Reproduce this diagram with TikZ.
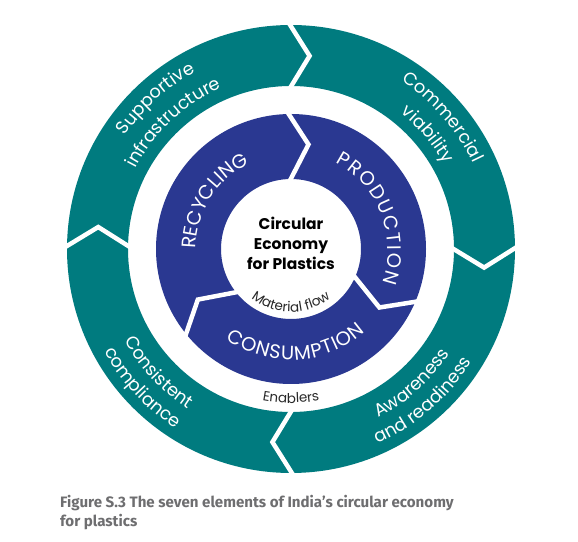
\documentclass[tikz,border=0pt]{standalone}
\usepackage{fontspec}
\setmainfont{Poppins}
\newfontfamily\ringfont{Poppins}
\newfontfamily\capfont{Fira Sans}
\usetikzlibrary{decorations.text}
\definecolor{tealc}{RGB}{0,123,127}
\definecolor{bluec}{RGB}{42,56,145}
\definecolor{capgray}{RGB}{110,110,112}
\definecolor{darktxt}{RGB}{40,40,40}
\tikzset{
  ringtext/.style={decorate, decoration={text along path, text align=center,
    text={|\ringfont\fontsize{17.8}{20}\selectfont\color{white}|#1}}},
  capstext/.style={decorate, decoration={text along path, text align=fit to path,
    text={|\ringfont\fontsize{19.5}{22}\selectfont\color{white}|#1}}},
  smalltext/.style={decorate, decoration={text along path, text align=center,
    text={|\ringfont\fontsize{13.5}{15}\selectfont\color{darktxt}|#1}}},
  gapline/.style={draw=white, line width=4.5pt, line join=miter},
  captext/.style={anchor=base west, inner sep=0pt, font=\capfont\bfseries\fontsize{15.1}{19}\selectfont, text=capgray},
}
\begin{document}
\begin{tikzpicture}
\useasboundingbox (0,0) rectangle (578pt,541pt);
\fill[white] (0,0) rectangle (578pt,541pt);
\begin{scope}[shift={(291pt,292pt)}]
  % enablers ring
  \fill[tealc, even odd rule] (0,0) circle[radius=224pt] (0,0) circle[radius=163pt];
  \foreach \t in {91,1,-89,180}{
    \draw[gapline] (\t:158pt) -- (\t-6.5:194pt) -- (\t:229pt);
  }
  % material flow ring
  \fill[bluec, even odd rule] (0,0) circle[radius=135pt] (0,0) circle[radius=70pt];
  \foreach \t in {92,-22,220}{
    \draw[gapline] (\t:66pt) -- (\t-11.5:106pt) -- (\t:139pt);
  }
  % ring texts (enablers)
  \path[ringtext={Supportive}] (176:201pt) arc[start angle=176, end angle=88, radius=201pt];
  \path[ringtext={infrastructure}] (177:175pt) arc[start angle=177, end angle=89, radius=175pt];
  \path[ringtext={Commercial}] (86:201pt) arc[start angle=86, end angle=-4, radius=201pt];
  \path[ringtext={viability}] (85:175pt) arc[start angle=85, end angle=-5, radius=175pt];
  \path[ringtext={Awareness}] (-93:190pt) arc[start angle=-93, end angle=-3, radius=190pt];
  \path[ringtext={and readiness}] (-94:213pt) arc[start angle=-94, end angle=-4, radius=213pt];
  \path[ringtext={Consistent}] (178:190pt) arc[start angle=178, end angle=268, radius=190pt];
  \path[ringtext={compliance}] (178:213pt) arc[start angle=178, end angle=268, radius=213pt];
  % material flow texts
  \path[capstext={RECYCLING}] (180:95pt) arc[start angle=180, end angle=116, radius=95pt];
  \path[capstext={PRODUCTION}] (63:97pt) arc[start angle=63, end angle=-20, radius=97pt];
  \path[capstext={CONSUMPTION}] (234:111pt) arc[start angle=234, end angle=312, radius=111pt];
  \path[smalltext={Material flow}] (225:63pt) arc[start angle=225, end angle=315, radius=63pt];
  \path[smalltext={Enablers}] (240:154pt) arc[start angle=240, end angle=300, radius=154pt];
  % centre
  \node[font=\bfseries\fontsize{15.5}{20}\selectfont, align=center, text=black, inner sep=0pt] (centre) at (0,6pt) {Circular\\Economy\\for Plastics};
\end{scope}
\node[captext] (cap1) at (60pt,34pt) {Figure S.3 The seven elements of India’s circular economy};
\node[captext] (cap2) at (60pt,15pt) {for plastics};
\end{tikzpicture}
\end{document}
